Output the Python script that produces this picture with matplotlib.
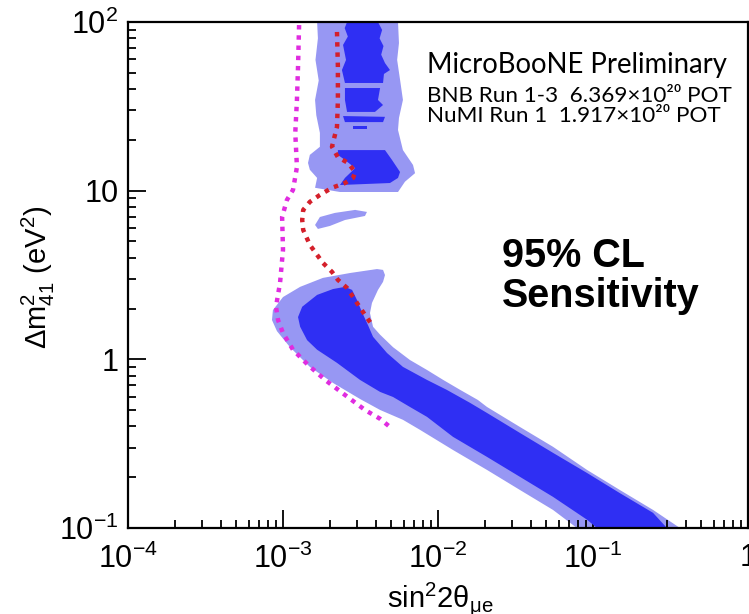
import numpy as np
import matplotlib
matplotlib.use("Agg")
import matplotlib.pyplot as plt
from matplotlib.ticker import LogLocator, FixedLocator, FixedFormatter, NullFormatter

plt.rcParams['font.family'] = ['Liberation Sans', 'DejaVu Sans']
plt.rcParams['mathtext.fontset'] = 'custom'
plt.rcParams['mathtext.rm'] = 'Liberation Sans'
plt.rcParams['mathtext.it'] = 'Liberation Sans'
plt.rcParams['mathtext.bf'] = 'Liberation Sans:bold'
plt.rcParams['mathtext.default'] = 'regular'

# ---- data: (sin^2 2theta, dm^2) ----
# outer (light) allowed-sensitivity region, upper band
light_top_s = [1.66e-3, 5.52e-3, 5.60e-3, 5.45e-3, 5.70e-3, 5.94e-3, 5.60e-3, 5.52e-3, 5.94e-3, 6.90e-3,
               7.11e-3, 6.12e-3, 5.52e-3, 2.33e-3, 1.61e-3, 1.66e-3, 1.49e-3, 1.45e-3, 1.49e-3, 1.73e-3,
               1.73e-3, 1.64e-3, 1.61e-3, 1.70e-3, 1.62e-3, 1.68e-3]
light_top_m = [100, 100, 75.0, 59.6, 45.0, 34.5, 27.0, 22.9, 17.4, 14.2,
               12.7, 11.3, 9.82, 9.82, 10.4, 11.9, 13.3, 14.6, 16.3, 18.2,
               22.0, 28.0, 34.5, 45.0, 59.6, 80.0]

# small light island near 7 eV^2
island_s = [1.61e-3, 1.73e-3, 2.16e-3, 2.92e-3, 3.48e-3, 3.38e-3, 2.51e-3, 2.01e-3, 1.68e-3]
island_m = [6.26, 6.98, 7.38, 7.69, 7.48, 7.08, 6.70, 6.18, 5.93]

# light band, low dm^2
light_low_s = [8.61e-4, 1.00e-3, 1.29e-3, 1.81e-3, 2.71e-3, 4.04e-3, 4.42e-3, 4.55e-3, 4.42e-3, 4.10e-3,
               3.75e-3, 3.64e-3, 3.81e-3, 4.23e-3, 5.13e-3, 6.59e-3, 8.49e-3, 1.08e-2, 1.39e-2, 1.81e-2,
               2.07e-2, 3.38e-2, 5.52e-2, 9.15e-2, 0.149, 0.244, 0.364,
               7.88e-2, 5.52e-2, 3.38e-2, 2.07e-2, 1.25e-2, 7.65e-3, 5.94e-3, 4.23e-3, 3.14e-3,
               2.10e-3, 1.49e-3, 1.11e-3, 9.14e-4, 8.49e-4]
light_low_m = [1.96, 2.34, 2.69, 3.04, 3.25, 3.43, 3.39, 3.16, 2.88, 2.58,
               2.16, 1.88, 1.56, 1.40, 1.18, 0.991, 0.865, 0.755, 0.659, 0.574,
               0.522, 0.397, 0.303, 0.221, 0.168, 0.128, 0.1,
               0.1, 0.128, 0.168, 0.221, 0.290, 0.382, 0.438, 0.501, 0.582,
               0.725, 0.902, 1.18, 1.47, 1.71]

# inner (dark) region pieces
dark_a_s = [2.59e-3, 4.10e-3, 4.36e-3, 4.20e-3, 4.45e-3, 4.30e-3, 4.55e-3, 4.90e-3, 4.48e-3, 4.42e-3,
            2.51e-3, 2.40e-3, 2.55e-3, 2.44e-3, 2.62e-3, 2.50e-3]
dark_a_m = [100, 100, 89.7, 80.0, 72.0, 64.0, 57.1, 51.9, 49.2, 43.5,
            43.5, 51.9, 59.6, 73.1, 82.0, 92.0]
dark_b_s = [2.51e-3, 4.23e-3, 4.10e-3, 4.42e-3, 3.92e-3, 2.59e-3, 2.51e-3]
dark_b_m = [40.6, 40.6, 34.5, 32.2, 29.3, 29.3, 34.5]
dark_c_s = [2.44e-3, 4.55e-3, 4.42e-3, 2.51e-3]
dark_c_m = [27.7, 27.4, 25.5, 25.5]
dark_d_s = [2.83e-3, 3.48e-3, 3.48e-3, 2.83e-3]
dark_d_m = [24.2, 24.2, 23.2, 23.2]
dark_e_s = [2.26e-3, 4.55e-3, 5.05e-3, 5.69e-3, 5.52e-3, 4.90e-3, 2.33e-3, 2.51e-3, 2.92e-3, 2.51e-3, 2.26e-3]
dark_e_m = [17.4, 17.4, 15.2, 12.9, 11.9, 11.1, 10.8, 11.9, 13.6, 15.2, 16.3]

dark_low_s = [1.25e-3, 1.33e-3, 1.66e-3, 2.10e-3, 2.51e-3, 2.79e-3, 3.00e-3, 3.23e-3, 3.53e-3, 3.81e-3,
              4.69e-3, 5.94e-3, 8.49e-3, 1.14e-2, 1.61e-2, 2.07e-2, 3.38e-2, 5.52e-2, 9.15e-2, 0.149,
              0.244, 0.300, 0.106, 9.15e-2, 5.52e-2, 3.38e-2, 2.07e-2, 1.25e-2, 8.49e-3, 6.59e-3,
              5.13e-3, 4.23e-3, 3.14e-3, 2.23e-3, 1.66e-3, 1.43e-3, 1.29e-3]
dark_low_m = [1.78, 2.05, 2.41, 2.61, 2.69, 2.58, 2.25, 1.91, 1.60, 1.36,
              1.09, 0.902, 0.755, 0.659, 0.552, 0.481, 0.366, 0.279, 0.212, 0.161,
              0.123, 0.1, 0.1, 0.112, 0.153, 0.201, 0.264, 0.347, 0.456, 0.522,
              0.598, 0.641, 0.755, 0.953, 1.14, 1.30, 1.56]

# magenta dotted curve
mag_s = [1.27e-3, 1.25e-3, 1.23e-3, 1.20e-3, 1.23e-3, 1.16e-3, 1.06e-3, 9.87e-4, 1.00e-3, 9.57e-4,
         9.01e-4, 9.29e-4, 1.00e-3, 1.16e-3, 1.45e-3, 1.87e-3, 2.51e-3, 3.38e-3, 4.23e-3, 4.90e-3]
mag_m = [95.9, 54.1, 34.5, 22.0, 13.8, 10.1, 8.81, 6.98, 4.45, 2.84,
         2.05, 1.71, 1.43, 1.14, 0.927, 0.755, 0.615, 0.501, 0.444, 0.397]

# red dotted curve
red_s = [2.23e-3, 2.26e-3, 2.26e-3, 2.23e-3, 2.10e-3, 2.07e-3, 2.26e-3, 2.63e-3, 2.92e-3, 2.83e-3,
         2.51e-3, 2.07e-3, 1.73e-3, 1.49e-3, 1.35e-3, 1.33e-3, 1.35e-3, 1.49e-3, 1.66e-3, 1.81e-3,
         2.07e-3, 2.26e-3, 2.59e-3, 3.00e-3, 3.28e-3, 3.75e-3]
red_m = [87.3, 54.1, 34.5, 23.9, 19.2, 18.2, 15.8, 14.6, 12.9, 11.9,
         11.1, 10.4, 9.43, 8.58, 7.69, 6.70, 5.85, 4.77, 4.16, 3.73,
         3.30, 2.96, 2.65, 2.16, 1.91, 1.60]

xtick_vals = [1e-4, 1e-3, 1e-2, 1e-1, 1]
xtick_labels = ['$10^{-4}$', '$10^{-3}$', '$10^{-2}$', '$10^{-1}$', '1']
ytick_vals = [0.1, 1, 10, 100]
ytick_labels = ['$10^{-1}$', '1', '10', '$10^{2}$']

light = '#9797f3'
dark = '#2f2ff3'

fig = plt.figure(figsize=(7.49, 6.14), dpi=100)
ax = fig.add_axes([128 / 749, 86 / 614, 620 / 749, 506 / 614])

for xs, ys in [(light_top_s, light_top_m), (island_s, island_m), (light_low_s, light_low_m)]:
    ax.fill(xs, ys, color=light, lw=0, zorder=1)
for xs, ys in [(dark_a_s, dark_a_m), (dark_b_s, dark_b_m), (dark_c_s, dark_c_m),
               (dark_d_s, dark_d_m), (dark_e_s, dark_e_m), (dark_low_s, dark_low_m)]:
    ax.fill(xs, ys, color=dark, lw=0, zorder=2)

ax.plot(mag_s, mag_m, color='#e02ce0', lw=3.2, linestyle=(0, (1, 1.3)), zorder=3)
ax.plot(red_s, red_m, color='#d41f2a', lw=3.2, linestyle=(0, (1, 1.3)), zorder=3)

ax.set_xscale('log')
ax.set_yscale('log')
ax.set_xlim(1e-4, 1)
ax.set_ylim(0.1, 100)

ax.xaxis.set_major_locator(FixedLocator(xtick_vals))
ax.xaxis.set_major_formatter(FixedFormatter(xtick_labels))
ax.yaxis.set_major_locator(FixedLocator(ytick_vals))
ax.yaxis.set_major_formatter(FixedFormatter(ytick_labels))
ax.xaxis.set_minor_locator(LogLocator(base=10, subs=range(2, 10), numticks=20))
ax.yaxis.set_minor_locator(LogLocator(base=10, subs=range(2, 10), numticks=20))
ax.xaxis.set_minor_formatter(NullFormatter())
ax.yaxis.set_minor_formatter(NullFormatter())

ax.tick_params(which='both', direction='in', top=False, right=False, width=1.3, labelsize=22)
ax.tick_params(which='major', length=13)
ax.tick_params(which='minor', length=6)
ax.tick_params(axis='x', which='major', pad=11)
ax.tick_params(axis='y', which='major', pad=7)
for sp in ax.spines.values():
    sp.set_linewidth(1.6)

# annotations
lato = ['Lato', 'DejaVu Sans']
ax.text(0.482, 0.899, 'MicroBooNE Preliminary', transform=ax.transAxes, fontsize=19.8,
        family=lato, va='baseline', ha='left')
ax.text(0.482, 0.842, 'BNB Run 1-3  6.369×10²⁰ POT', transform=ax.transAxes, fontsize=16.2,
        family=lato, va='baseline', ha='left')
ax.text(0.482, 0.802, 'NuMI Run 1  1.917×10²⁰ POT', transform=ax.transAxes, fontsize=16.2,
        family=lato, va='baseline', ha='left')
ax.text(0.603, 0.516, '95% CL', transform=ax.transAxes, fontsize=28.5, fontweight='bold',
        va='baseline', ha='left')
ax.text(0.603, 0.437, 'Sensitivity', transform=ax.transAxes, fontsize=28.5, fontweight='bold',
        va='baseline', ha='left')

fig.text(38 / 749, 1 - 277 / 614, r'$\Delta$m$^{2}_{41}$ (eV$^{2}$)', rotation=90,
         ha='center', va='center', fontsize=21)
fig.text(387 / 749, 7 / 614, r'sin$^{2}$2$θ_{μe}$', ha='left', va='baseline', fontsize=21)

fig.savefig('out.png', dpi=100)
